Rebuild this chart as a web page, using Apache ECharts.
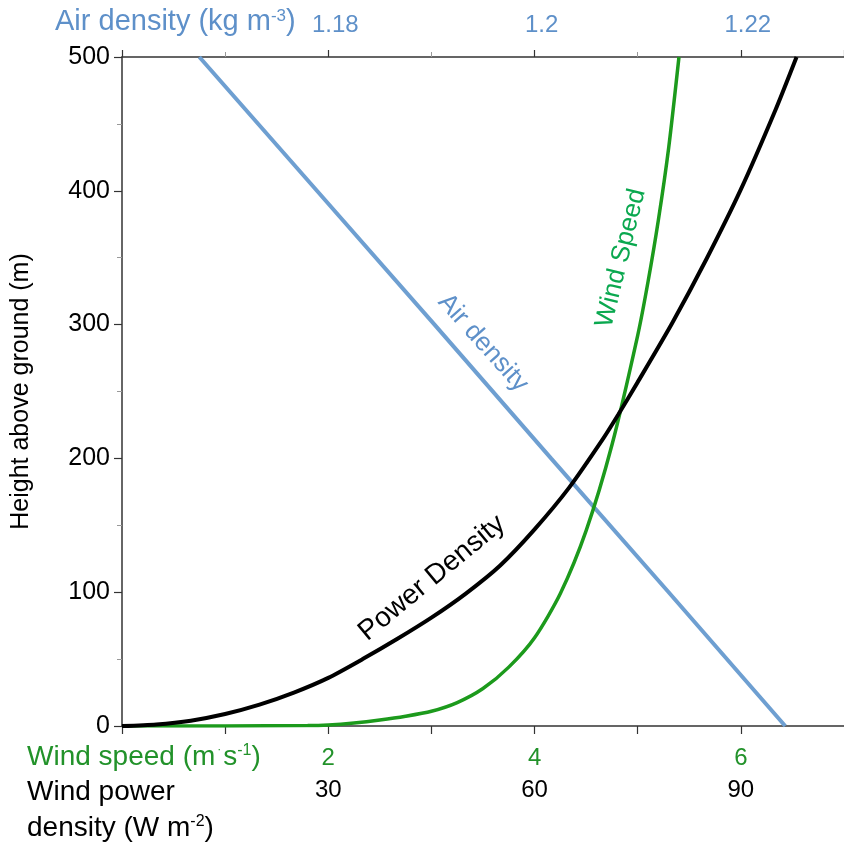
<!DOCTYPE html>
<html><head><meta charset="utf-8">
<script src="https://cdn.jsdelivr.net/npm/echarts@6/dist/echarts.min.js"></script>
<style>html,body{margin:0;padding:0;background:#fff}#c{width:844px;height:844px}</style>
</head><body><div id="c"></div>
<script>
// Height above ground (m) axis ticks
const heightTicks = [0, 100, 200, 300, 400, 500];
// Wind speed profile (m s-1) vs height (m)
const windSpeedValues  = [0, 1.0, 1.8, 2.0, 2.25, 2.5, 2.75, 3.0, 3.25, 3.5, 3.75, 4.0, 4.25, 4.5, 4.75, 5.0, 5.1, 5.2, 5.3, 5.4];
const windSpeedHeights = [0, 0.05, 0.3, 0.8, 2.3, 4.5, 7.3, 11, 17.5, 28, 44, 66, 99, 146, 210, 292, 332, 378, 432, 500];
// Wind power density (W m-2) vs height (m)
const powerValues  = [0, 5, 10, 15, 20, 25, 30, 35, 40, 45, 50, 55, 60, 65, 70, 72.2, 75, 80, 85, 90, 95, 98.1];
const powerHeights = [0, 1.2, 4, 9, 16, 25, 36, 50, 65, 81, 99, 120, 147, 178, 215, 233, 257, 301, 349, 401, 460, 500];
// Air density (kg m-3) vs height (m)
const airHeights = [0, 100, 200, 300, 400, 500];
const airValues  = [1.2243, 1.2130, 1.2016, 1.1903, 1.1789, 1.1675];
// Tick labels shown
const windSpeedTickLabels = [2, 4, 6];
const powerTickLabels = [30, 60, 90];
const airTickLabels = ['1.18', '1.2', '1.22'];

const FONT = 'Liberation Sans, Arial, Helvetica, sans-serif';
const BLUE_TXT = '#5e90c9', BLUE_LINE = '#6e9fd1';
const GREEN_TXT = '#22922a', GREEN_LINE = '#1c9a1c', GREEN_LBL = '#0aa84f';
const AXIS = '#333';

const zip = (xs, ys) => xs.map((x, i) => [x, ys[i]]);

const chart = echarts.init(document.getElementById('c'), null, {renderer: 'canvas'});
chart.setOption({
  animation: false,
  backgroundColor: '#fff',
  grid: {left: 122, top: 57, width: 723, height: 669, containLabel: false},
  yAxis: {
    type: 'value', min: 0, max: 500, interval: 100,
    name: 'Height above ground (m)', nameLocation: 'middle', nameGap: 88, nameRotate: 90,
    nameTextStyle: {fontFamily: FONT, fontSize: 25, color: '#000'},
    axisLine: {show: true, lineStyle: {color: AXIS, width: 1.5}},
    axisTick: {show: true, length: 8, lineStyle: {color: AXIS, width: 1.2}},
    minorTick: {show: true, splitNumber: 2, length: 5, lineStyle: {color: '#999'}},
    splitLine: {show: false},
    axisLabel: {fontFamily: FONT, fontSize: 25, color: '#000', margin: 12,
      formatter: v => heightTicks.includes(v) ? String(v) : ''}
  },
  xAxis: [
    { // wind speed, bottom
      type: 'value', position: 'bottom', min: 0, max: 7, interval: 1,
      axisLine: {show: true, onZero: false, lineStyle: {color: AXIS, width: 1.5}},
      axisTick: {show: true, length: 8, lineStyle: {color: AXIS, width: 1.2}},
      splitLine: {show: false},
      axisLabel: {fontFamily: FONT, fontSize: 24, color: GREEN_TXT, margin: 20, showMaxLabel: false,
        formatter: v => windSpeedTickLabels.includes(Math.round(v * 1000) / 1000) ? String(Math.round(v)) : ''}
    },
    { // wind power density, bottom (second row)
      type: 'value', position: 'bottom', offset: 32, min: 0, max: 105, interval: 15,
      axisLine: {show: false, onZero: false}, axisTick: {show: false}, splitLine: {show: false},
      axisLabel: {fontFamily: FONT, fontSize: 24, color: '#000', margin: 20, showMaxLabel: false,
        formatter: v => powerTickLabels.includes(Math.round(v)) ? String(Math.round(v)) : ''}
    },
    { // air density, top
      type: 'value', position: 'top', min: 1.16, max: 1.23, interval: 0.02,
      axisLine: {show: true, onZero: false, lineStyle: {color: AXIS, width: 1.5}},
      axisTick: {show: true, length: 7, lineStyle: {color: AXIS, width: 1.2}},
      minorTick: {show: true, splitNumber: 2, length: 5, lineStyle: {color: '#999'}},
      splitLine: {show: false},
      axisLabel: {fontFamily: FONT, fontSize: 24, color: BLUE_TXT, margin: 20, showMaxLabel: false, padding: [0, 0, 0, 14],
        formatter: v => { const s = String(Math.round(v * 100) / 100); return airTickLabels.includes(s) ? s : ''; }}
    }
  ],
  series: [
    {name: 'Air density', type: 'line', xAxisIndex: 2, yAxisIndex: 0, showSymbol: false,
     lineStyle: {color: BLUE_LINE, width: 4}, data: zip(airValues, airHeights), z: 2},
    {name: 'Wind Speed', type: 'line', xAxisIndex: 0, yAxisIndex: 0, showSymbol: false, smooth: 0.25,
     lineStyle: {color: GREEN_LINE, width: 3.5}, data: zip(windSpeedValues, windSpeedHeights), z: 3},
    {name: 'Power Density', type: 'line', xAxisIndex: 1, yAxisIndex: 0, showSymbol: false, smooth: 0.25,
     lineStyle: {color: '#000', width: 4}, data: zip(powerValues, powerHeights), z: 4}
  ],
  graphic: [
    {type: 'text', x: 55, y: 22, style: {
      text: '{a|Air density (kg m}{s|-3}{a|)}', verticalAlign: 'middle',
      rich: {a: {fontFamily: FONT, fontSize: 29, fill: BLUE_TXT}, s: {fontFamily: FONT, fontSize: 17, fill: BLUE_TXT, padding: [0, 0, 12, 0]}}
    }},
    {type: 'text', x: 27, y: 757, style: {
      text: '{a|Wind speed (m}{d|·}{a|s}{s|-1}{a|)}', verticalAlign: 'middle',
      rich: {a: {fontFamily: FONT, fontSize: 28, fill: GREEN_TXT}, d: {fontFamily: FONT, fontSize: 12, fill: GREEN_TXT, padding: [0, 2, 14, 2]}, s: {fontFamily: FONT, fontSize: 16, fill: GREEN_TXT, padding: [0, 0, 12, 0]}}
    }},
    {type: 'text', x: 27, y: 792, style: {text: 'Wind power', verticalAlign: 'middle', font: '28px ' + FONT, fill: '#000'}},
    {type: 'text', x: 27, y: 828, style: {
      text: '{a|density (W m}{s|-2}{a|)}', verticalAlign: 'middle',
      rich: {a: {fontFamily: FONT, fontSize: 28, fill: '#000'}, s: {fontFamily: FONT, fontSize: 16, fill: '#000', padding: [0, 0, 12, 0]}}
    }},
    {type: 'text', x: 432, y: 578, rotation: 0.69, style: {text: 'Power Density', align: 'center', verticalAlign: 'middle', font: '28px ' + FONT, fill: '#000'}},
    {type: 'text', x: 483, y: 343, rotation: -0.84, style: {text: 'Air density', align: 'center', verticalAlign: 'middle', font: '26px ' + FONT, fill: BLUE_TXT}},
    {type: 'text', x: 621, y: 258, rotation: 1.33, style: {text: 'Wind Speed', align: 'center', verticalAlign: 'middle', font: '26px ' + FONT, fill: GREEN_LBL}}
  ]
});
</script></body></html>
